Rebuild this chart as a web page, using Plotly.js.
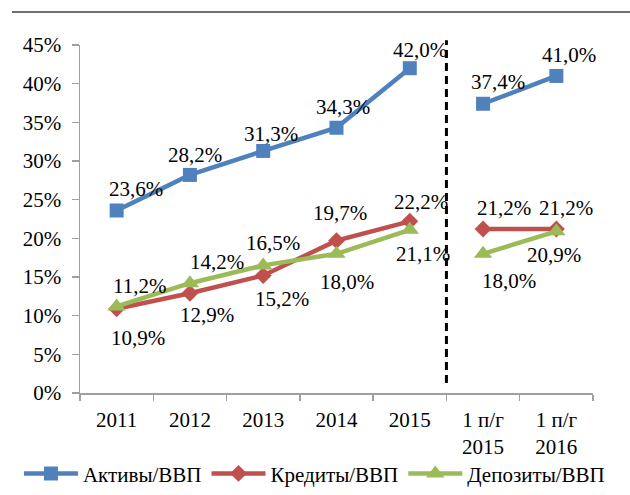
<!DOCTYPE html>
<html>
<head>
<meta charset="utf-8">
<script src="https://cdn.plot.ly/plotly-3.0.1.min.js"></script>
<style>html,body{margin:0;padding:0;background:#fff;}#chart{width:630px;height:495px;}</style>
</head>
<body>
<div id="chart"></div>
<script>
// ---- data ----
const categories = ["2011", "2012", "2013", "2014", "2015", "1 п/г<br>2015", "1 п/г<br>2016"];
const seriesNames = ["Активы/ВВП", "Кредиты/ВВП", "Депозиты/ВВП"];
const assets   = [23.6, 28.2, 31.3, 34.3, 42.0, 37.4, 41.0];
const credits  = [10.9, 12.9, 15.2, 19.7, 22.2, 21.2, 21.2];
const deposits = [11.2, 14.2, 16.5, 18.0, 21.1, 18.0, 20.9];
const breakAfter = 4; // series are interrupted between index 4 and 5

// ---- styles ----
const colors = ["#4F81BD", "#C0504D", "#9BBB59"];
const symbols = ["square", "diamond", "triangle-up"];
const markerSizes = [14, 13, 16];
const FONT = "'Liberation Serif', 'Times New Roman', serif";
// label offsets (px) relative to each point: [dx, dy] with dy positive = downwards
const labelOffsets = [
  [[19,-21],[5,-20],[8,-17],[6,-21],[10,-18],[15,-22],[13,-21]],
  [[21,29],[17,22],[19,24],[3,-28],[11,-19],[21,-21],[10,-21]],
  [[23,-20],[27,-21],[10,-22],[10,28],[13,24],[26,27],[-2,24]]
];

const allSeries = [assets, credits, deposits];
const traces = [];
const annotations = [];
allSeries.forEach((vals, s) => {
  const common = {
    type: "scatter", mode: "lines+markers",
    name: seriesNames[s], legendgroup: "g" + s,
    line: {color: colors[s], width: 4.5},
    marker: {color: colors[s], symbol: symbols[s], size: markerSizes[s]},
    hoverinfo: "skip"
  };
  traces.push(Object.assign({}, common, {
    x: categories.slice(0, breakAfter + 1), y: vals.slice(0, breakAfter + 1), showlegend: true
  }));
  traces.push(Object.assign({}, common, {
    x: categories.slice(breakAfter + 1), y: vals.slice(breakAfter + 1), showlegend: false
  }));
  vals.forEach((v, i) => {
    annotations.push({
      x: i, y: v, xref: "x", yref: "y",
      text: v.toFixed(1).replace(".", ",") + "%",
      showarrow: false,
      xshift: labelOffsets[s][i][0], yshift: -labelOffsets[s][i][1],
      font: {family: FONT, size: 21, color: "#000"}
    });
  });
});

const axisColor = "#a0a0a0";
const layout = {
  width: 630, height: 495,
  margin: {l: 80, r: 37, t: 45, b: 102, autoexpand: false},
  paper_bgcolor: "#fff", plot_bgcolor: "#fff",
  font: {family: FONT, size: 21, color: "#000"},
  showlegend: true,
  legend: {orientation: "h",
           x: -0.119, xanchor: "left", y: -0.232, yanchor: "middle",
           itemwidth: 54,
           font: {family: FONT, size: 21, color: "#000"}, bgcolor: "rgba(0,0,0,0)"},
  xaxis: {
    type: "category", categoryorder: "array", categoryarray: categories,
    range: [-0.5, 6.5], tickson: "boundaries",
    ticks: "outside", ticklen: 6, tickcolor: axisColor, tickwidth: 1.5,
    showline: true, linecolor: axisColor, linewidth: 1.5,
    showgrid: false, zeroline: false, fixedrange: true,
    ticklabelstandoff: 7,
    tickfont: {family: FONT, size: 21, color: "#000"}
  },
  yaxis: {
    range: [0, 45], dtick: 5, tick0: 0, ticksuffix: "%",
    ticks: "outside", ticklen: 7, tickcolor: axisColor, tickwidth: 1.5,
    showline: true, linecolor: axisColor, linewidth: 1.5,
    showgrid: false, zeroline: false, fixedrange: true,
    ticklabelstandoff: 6,
    tickfont: {family: FONT, size: 21, color: "#000"}
  },
  annotations: annotations,
  shapes: [
    {type: "line", xref: "x", yref: "paper", x0: breakAfter + 0.5, x1: breakAfter + 0.5,
     y0: 0.029, y1: 1.014, line: {color: "#000", width: 3, dash: "8px,5px"}},
    {type: "line", xref: "paper", yref: "paper", layer: "above", x0: -0.1326, x1: 1.08, y0: 1.0948, y1: 1.0948,
     line: {color: "#404040", width: 1.5}}
  ]
};

Plotly.newPlot("chart", traces, layout, {displayModeBar: false, staticPlot: true});
</script>
</body>
</html>
